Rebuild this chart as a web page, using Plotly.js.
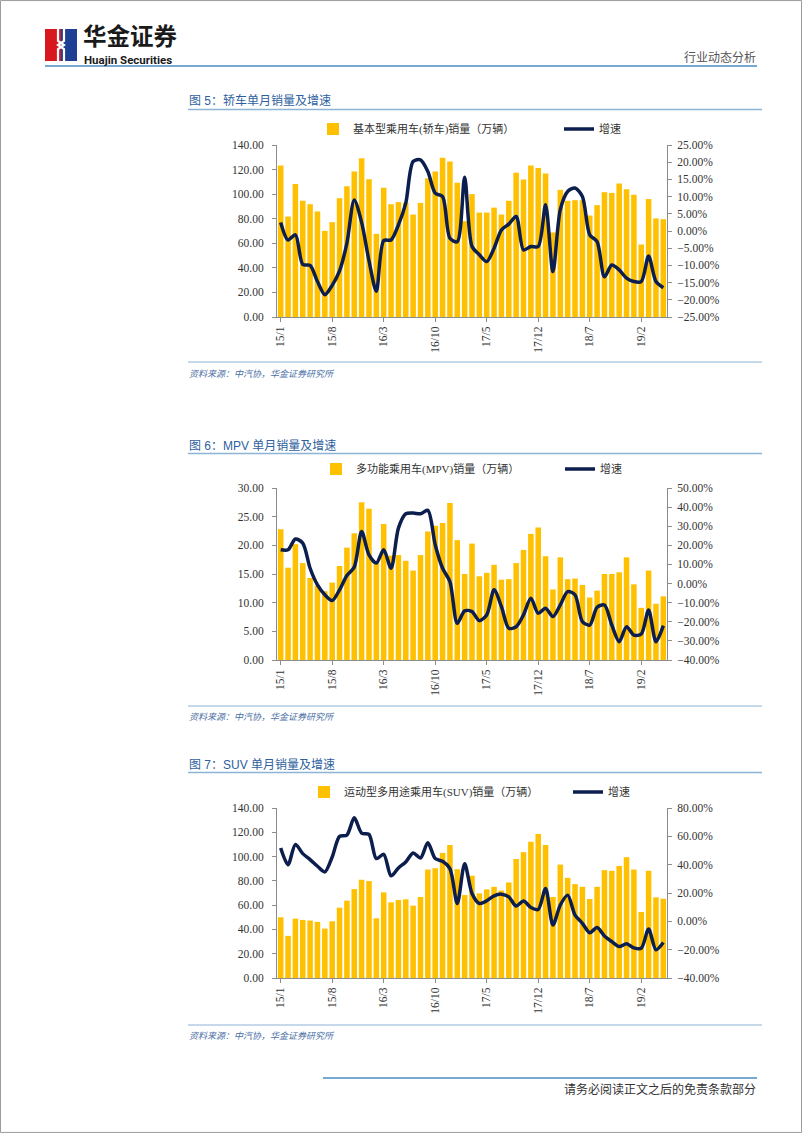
<!DOCTYPE html>
<html><head><meta charset="utf-8">
<script src="https://cdn.plot.ly/plotly-3.0.1.min.js"></script>
<style>html,body{margin:0;padding:0;background:#fff}#chart{width:802px;height:1133px}</style>
</head><body><div id="chart"></div>
<script>
const months = ["15/1","15/2","15/3","15/4","15/5","15/6","15/7","15/8","15/9","15/10","15/11","15/12",
"16/1","16/2","16/3","16/4","16/5","16/6","16/7","16/8","16/9","16/10","16/11","16/12",
"17/1","17/2","17/3","17/4","17/5","17/6","17/7","17/8","17/9","17/10","17/11","17/12",
"18/1","18/2","18/3","18/4","18/5","18/6","18/7","18/8","18/9","18/10","18/11","18/12",
"19/1","19/2","19/3","19/4","19/5"];
const tickLabels = ["15/1","15/8","16/3","16/10","17/5","17/12","18/7","19/2"];

const sedanName = "基本型乘用车(轿车)销量（万辆）";
const sedanSales = [123.4,81.8,108.2,94.6,91.8,85.9,70.1,77.2,96.7,106.5,118.5,129.3,112.2,67.7,105.2,91.8,93.5,93.0,83.4,92.9,113.0,118.5,129.6,126.6,109.2,78.0,100.0,85.0,85.0,89.0,83.4,94.6,117.4,112.0,123.4,121.2,116.8,68.8,103.5,94.6,95.1,95.0,82.6,91.0,101.6,101.0,108.7,104.0,99.5,59.0,96.0,80.2,79.6];
const sedanGrowth = [2.5,-2.6,-1.1,-9.7,-10.0,-14.7,-18.5,-15.8,-11.6,-3.5,9.0,2.5,-8.6,-17.5,-2.8,-2.6,1.8,8.1,20.2,20.7,17.3,11.0,10.0,-2.1,-3.1,15.6,-4.5,-6.9,-8.9,-5.0,0.3,2.0,4.2,-5.5,-4.5,-4.5,7.6,-11.8,6.2,11.5,12.5,10.0,-1.1,-3.1,-13.3,-9.9,-11.3,-13.7,-14.7,-14.7,-7.3,-14.7,-16.5];

const mpvName = "多功能乘用车(MPV)销量（万辆）";
const mpvSales = [22.8,16.1,20.2,16.9,14.3,13.0,12.0,13.5,16.4,19.6,22.1,27.5,26.4,16.9,23.7,18.2,18.3,17.3,15.6,18.3,22.4,23.4,23.9,27.4,20.9,15.0,20.3,14.6,15.2,16.6,14.0,14.1,16.9,19.2,22.0,23.1,18.1,12.3,17.9,14.1,14.2,13.1,10.9,12.1,15.0,15.0,15.3,17.9,13.2,9.1,15.6,9.8,11.1];
const mpvGrowth = [17.7,17.7,23.3,21.2,8.0,-0.7,-5.9,-8.9,-3.3,4.2,8.6,27.3,15.0,10.7,17.7,8.0,29.0,36.5,36.9,36.5,38.3,20.3,8.0,1.0,-20.8,-14.3,-14.7,-19.4,-16.4,-3.3,-12.1,-23.4,-22.6,-16.4,-7.7,-15.6,-12.9,-17.3,-11.2,-4.2,-5.9,-19.9,-21.7,-12.4,-11.2,-21.7,-30.4,-22.6,-27.0,-26.4,-13.8,-30.4,-22.0];

const suvName = "运动型多用途乘用车(SUV)销量（万辆）";
const suvSales = [50.0,34.7,48.9,47.8,47.3,46.2,40.7,46.7,57.9,63.7,73.2,80.9,79.8,49.2,70.5,62.3,64.2,64.8,59.6,66.7,89.3,90.4,103.0,109.6,89.6,68.3,84.2,69.7,73.0,75.1,72.0,78.7,98.0,103.6,112.3,118.6,109.6,66.7,93.4,82.5,77.3,75.1,65.0,75.1,88.8,88.3,92.3,99.5,89.3,54.4,88.3,66.4,65.3];
const suvGrowth = [51.8,40.0,54.3,47.8,43.6,38.9,34.9,45.4,60.0,60.9,73.1,62.3,61.4,44.3,47.3,32.1,37.7,41.9,48.2,44.7,55.5,44.3,42.4,37.2,12.6,40.7,19.7,12.6,14.5,18.0,19.2,17.3,10.8,14.3,9.8,8.4,23.2,-2.6,11.5,18.5,4.4,-1.4,-8.0,-4.4,-10.3,-14.3,-17.8,-15.9,-18.7,-19.0,-5.4,-20.1,-15.0];

const growthName = "增速";

const W = 802, H = 1133;
const px = x => x / W;
const py = y => 1 - y / H;
const BAR = "#FFC000", LINE = "#0C1E4E", AX = "#8c8c8c";
const SERIF = "Liberation Serif, 'Noto Sans CJK SC', serif";
const CJK = "'Noto Sans CJK SC', sans-serif";

function barTrace(y, name, xa, ya, lg) {
  return {type: "bar", x: months, y: y, name: name, xaxis: xa, yaxis: ya, legend: lg,
    marker: {color: BAR}};
}
function lineTrace(y, xa, ya, lg) {
  return {type: "scatter", mode: "lines", x: months, y: y, name: growthName, xaxis: xa, yaxis: ya, legend: lg,
    line: {color: LINE, width: 3.5, shape: "spline", smoothing: 0.8}};
}
const traces = [
  barTrace(sedanSales, sedanName, "x", "y", "legend"),
  lineTrace(sedanGrowth, "x", "y2", "legend2"),
  barTrace(mpvSales, mpvName, "x2", "y3", "legend3"),
  lineTrace(mpvGrowth, "x2", "y4", "legend4"),
  barTrace(suvSales, suvName, "x3", "y5", "legend5"),
  lineTrace(suvGrowth, "x3", "y6", "legend6")
];

const tickFont = {family: SERIF, size: 11.5, color: "#333"};
function xAxis(anchor) {
  return {domain: [px(277), px(667)], anchor: anchor, type: "category", range: [-0.5, months.length - 0.5],
    tickmode: "array", tickvals: tickLabels, ticktext: tickLabels, tickangle: -90,
    showline: true, linecolor: AX, linewidth: 1, ticks: "outside", ticklen: 4, tickcolor: AX,
    tickfont: tickFont, showgrid: false, zeroline: false, fixedrange: true};
}
function yLeft(top, bottom, range, dtick, anchor) {
  return {domain: [py(bottom), py(top)], anchor: anchor, range: range, dtick: dtick, tick0: 0, tickformat: ".2f",
    showline: true, linecolor: AX, ticks: "outside", ticklen: 4, tickcolor: AX, ticklabelstandoff: 6,
    tickfont: tickFont, showgrid: false, zeroline: false, fixedrange: true};
}
function yRight(over, range, dtick, anchor) {
  return {overlaying: over, side: "right", anchor: anchor, range: range, dtick: dtick, tick0: 0,
    tickformat: ".2f", ticksuffix: "%",
    showline: true, linecolor: AX, ticks: "outside", ticklen: 4, tickcolor: AX, ticklabelstandoff: 3,
    tickfont: tickFont, showgrid: false, zeroline: false, fixedrange: true};
}
function legend(textX, y) {
  return {orientation: "h", x: px(textX - 41), xanchor: "left", y: py(y), yanchor: "middle",
    bgcolor: "rgba(0,0,0,0)", borderwidth: 0,
    font: {family: SERIF, size: 11, color: "#333"}};
}

const shapes = [];
function hline(y, x0, x1, color, w) {
  shapes.push({type: "line", xref: "paper", yref: "paper", x0: px(x0), x1: px(x1), y0: py(y), y1: py(y),
    line: {color: color, width: w}});
}
function rect(x0, y0, x1, y1, color) {
  shapes.push({type: "rect", xref: "paper", yref: "paper", x0: px(x0), x1: px(x1), y0: py(y1), y1: py(y0),
    fillcolor: color, line: {width: 0}});
}
// page frame
shapes.push({type: "rect", xref: "paper", yref: "paper", x0: 0.0006, x1: 0.9994, y0: 0.0005, y1: 0.9995,
  line: {color: "#9a9a9a", width: 1}, fillcolor: "rgba(0,0,0,0)"});
// logo
rect(45, 29, 61, 61, "#D7191F");
rect(61, 29, 77, 61, "#1E3F93");
shapes.push({type: "path", xref: "paper", yref: "paper",
  path: `M ${px(58)} ${py(29)} L ${px(58)} ${py(41)} L ${px(64)} ${py(45)} L ${px(58)} ${py(49)} L ${px(58)} ${py(61)}`,
  line: {color: "#ffffff", width: 2.2}});
shapes.push({type: "path", xref: "paper", yref: "paper",
  path: `M ${px(64)} ${py(29)} L ${px(64)} ${py(41)} L ${px(58)} ${py(45)} L ${px(64)} ${py(49)} L ${px(64)} ${py(61)}`,
  line: {color: "#ffffff", width: 2.2}});
// header / footer lines
hline(66, 45, 757, "#4A8CC4", 1.6);
hline(1078, 323, 757, "#4A8CC4", 1.6);
// chart section lines
const SEC = "#8DB3D6";
hline(109.5, 188, 762, SEC, 1.4); hline(362, 188, 762, SEC, 1.2);
hline(453.5, 188, 762, SEC, 1.4); hline(706, 188, 762, SEC, 1.2);
hline(772.5, 188, 762, SEC, 1.4); hline(1025, 188, 762, SEC, 1.2);

const annotations = [];
function txt(text, x, y, xanchor, font, yanchor) {
  annotations.push({text: text, xref: "paper", yref: "paper", x: px(x), y: py(y), xanchor: xanchor,
    yanchor: yanchor || "middle", showarrow: false, font: font, borderpad: 0});
}
txt("<b>华金证券</b>", 82, 53, "left", {family: CJK, size: 23.5, color: "#1a1a1a"}, "bottom");
txt("<b>Huajin Securities</b>", 83, 52, "left", {family: "Roboto, sans-serif", size: 11.5, color: "#1a1a1a"}, "top");
txt("行业动态分析", 757, 57, "right", {family: CJK, size: 12, color: "#555"});
const TITLE = {family: "'Liberation Sans', 'Noto Sans CJK SC', sans-serif", size: 12, color: "#2F5F9E"};
const SRC = {family: CJK, size: 9, color: "#4A6FA5"};
txt("图 5：轿车单月销量及增速", 188, 101, "left", TITLE);
txt("<i>资料来源：中汽协，华金证券研究所</i>", 188, 373, "left", SRC);
txt("图 6：MPV 单月销量及增速", 188, 445.5, "left", TITLE);
txt("<i>资料来源：中汽协，华金证券研究所</i>", 188, 716, "left", SRC);
txt("图 7：SUV 单月销量及增速", 188, 764.5, "left", TITLE);
txt("<i>资料来源：中汽协，华金证券研究所</i>", 188, 1035, "left", SRC);
txt("请务必阅读正文之后的免责条款部分", 757, 1088, "right", {family: CJK, size: 12, color: "#333"});

const layout = {
  width: W, height: H, autosize: false, margin: {l: 0, r: 0, t: 0, b: 0},
  paper_bgcolor: "#fff", plot_bgcolor: "rgba(0,0,0,0)",
  bargap: 0.25, showlegend: true, hovermode: false,
  xaxis: xAxis("y"),
  yaxis: yLeft(145, 317, [0, 140], 20, "x"),
  yaxis2: yRight("y", [-25, 25], 5, "x"),
  xaxis2: xAxis("y3"),
  yaxis3: yLeft(488, 660, [0, 30], 5, "x2"),
  yaxis4: yRight("y3", [-40, 50], 10, "x2"),
  xaxis3: xAxis("y5"),
  yaxis5: yLeft(808, 978, [0, 140], 20, "x3"),
  yaxis6: yRight("y5", [-40, 80], 20, "x3"),
  legend: legend(354, 129),
  legend2: legend(600, 129),
  legend3: legend(357, 469),
  legend4: legend(601, 469),
  legend5: legend(345, 792),
  legend6: legend(609, 792),
  shapes: shapes,
  annotations: annotations
};
Plotly.newPlot("chart", traces, layout, {staticPlot: true, displayModeBar: false});
</script>
</body></html>
